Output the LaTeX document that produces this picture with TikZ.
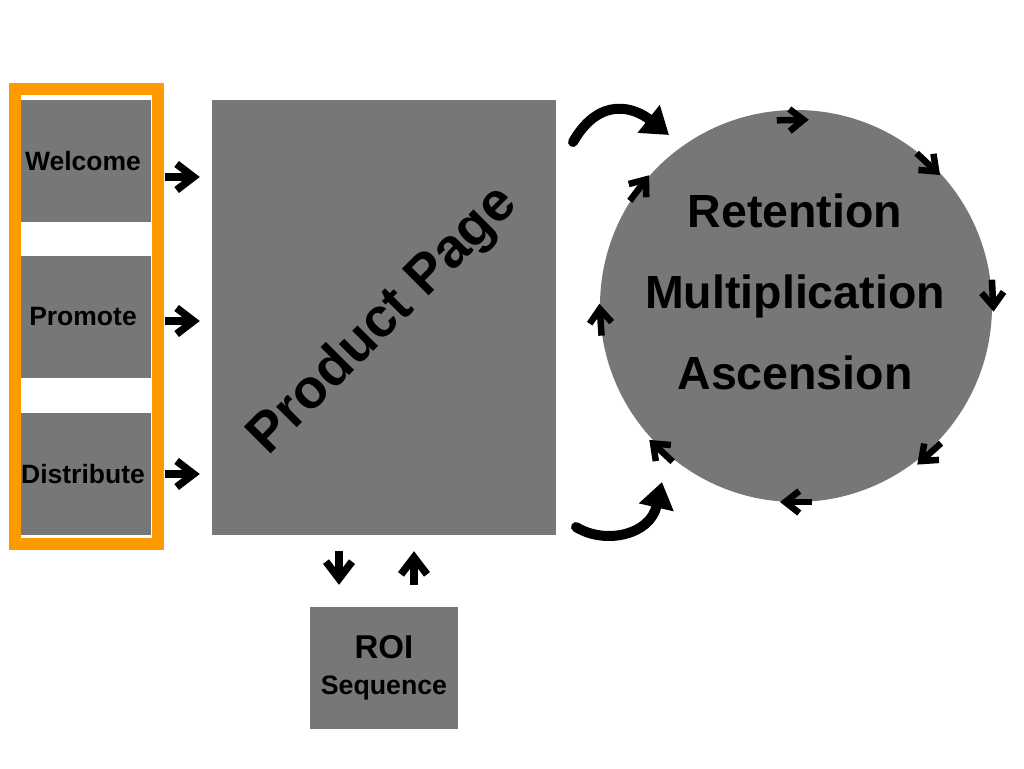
\documentclass[tikz,border=0pt]{standalone}
\usepackage{fontspec}
\setmainfont{Liberation Sans}
\usetikzlibrary{arrows.meta,positioning,calc}
\definecolor{boxgray}{HTML}{777777}
\definecolor{frameorange}{HTML}{FF9900}
\tikzset{
    stagebox/.style={fill=boxgray,minimum width=131pt,minimum height=122pt,inner sep=0pt,
        font=\fontsize{26.5}{30}\selectfont\bfseries},
    flow/.style={line width=7.5pt,-{Straight Barb[length=17pt,width=26pt]}},
    orbit/.style={line width=6.5pt,-{Straight Barb[length=14pt,width=22pt]}},
    swing/.style={line width=10pt,line cap=round,-{Triangle[length=26pt,width=34pt]}}
}

\begin{document}
\begin{tikzpicture}[x=1pt,y=-1pt]
        \useasboundingbox (0,0) rectangle (1024,768);

        \node[stagebox] (welcome) at (85.5,161) {\hspace*{-5pt}Welcome};
        \node[stagebox] (promote) at (85.5,317) {\hspace*{-5pt}Promote};
        \node[stagebox] (distribute) at (85.5,474) {\hspace*{-5pt}Distribute};
        \draw[frameorange,line width=12pt] (15,88.5) rectangle (158,543.5);

        \node[fill=boxgray,minimum width=344pt,minimum height=435pt,inner sep=0pt] (product) at (384,317.5) {};
        \node[rotate=45,font=\fontsize{55}{60}\selectfont\bfseries] (productlabel) at (384,321) {Product Page};

        \node[fill=boxgray,minimum width=148pt,minimum height=122pt,inner sep=0pt,align=center,
            font=\bfseries\fontsize{26.7}{36}\selectfont] (roi) at (384,668)
            {{\fontsize{33}{36}\selectfont ROI}\\{\fontsize{26.7}{36}\selectfont Sequence}};

        \node[circle,fill=boxgray,minimum size=392pt,inner sep=0pt] (loop) at (796,306) {};
        \node[align=center,font=\fontsize{46.5}{81}\selectfont\bfseries] (looplabel) at (795,292)
            {Retention\\Multiplication\\Ascension};

        % stages into the page
        \foreach \s/\dy in {welcome/16,promote/4,distribute/0}
            \draw[flow,shorten <=14pt,shorten >=12pt] ([yshift=-\dy pt]\s.east) -- ([yshift=-\dy pt]\s.east -| product.west);

        % page to ROI and back
        \draw[flow,shorten <=16pt,shorten >=22pt] ([xshift=-45pt]product.south) -- ([xshift=-45pt]roi.north);
        \draw[flow,shorten <=22pt,shorten >=16pt] ([xshift=30pt]roi.north) -- ([xshift=30pt]product.south);

        % page to the loop
        \coordinate (upstart) at (573,142);
        \coordinate (upend) at (669,135);
        \coordinate (downstart) at (576,527);
        \coordinate (downend) at (662,482);
        \draw[swing] (upstart) .. controls (600,95) and (635,108) .. (upend);
        \draw[swing] (downstart) .. controls (605,545) and (650,535) .. (downend);

        % round the loop, clockwise
        \foreach \a/\r in {91/186,47/194,3/197,-48/199,-90/196,-133/198,-176/196,143/196} {
            \coordinate (spot) at ($(loop.center)+(\a:\r pt)$);
            \draw[orbit] ([shift={(\a+90:16pt)}]spot) -- ([shift={(\a-90:16pt)}]spot);
        }
    \end{tikzpicture}
\end{document}
